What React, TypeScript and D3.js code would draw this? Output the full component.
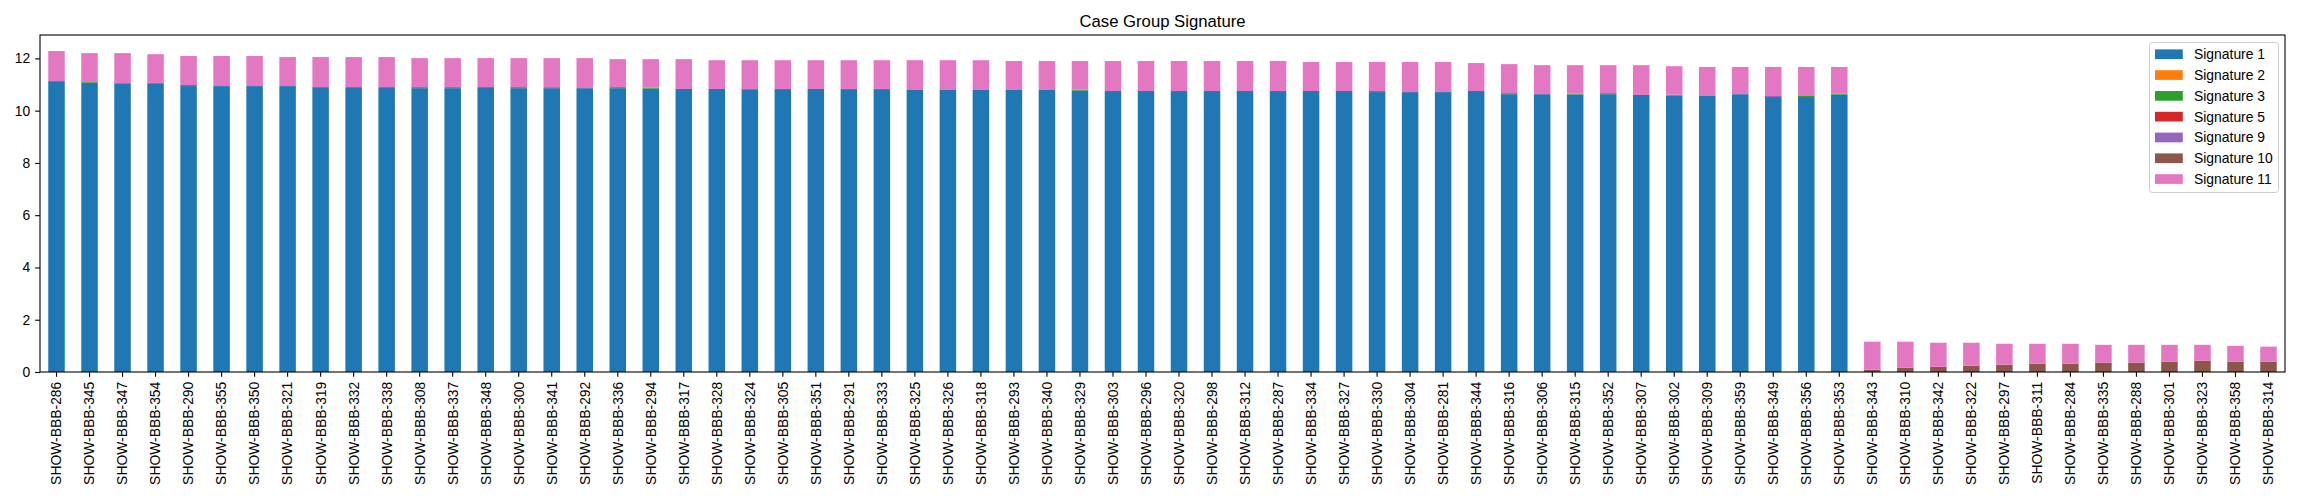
import React, { useEffect, useRef } from 'react';
import * as d3 from 'd3';

const samples = [
  'SHOW-BBB-286', 'SHOW-BBB-345', 'SHOW-BBB-347', 'SHOW-BBB-354', 'SHOW-BBB-290', 'SHOW-BBB-355', 'SHOW-BBB-350',
  'SHOW-BBB-321', 'SHOW-BBB-319', 'SHOW-BBB-332', 'SHOW-BBB-338', 'SHOW-BBB-308', 'SHOW-BBB-337', 'SHOW-BBB-348',
  'SHOW-BBB-300', 'SHOW-BBB-341', 'SHOW-BBB-292', 'SHOW-BBB-336', 'SHOW-BBB-294', 'SHOW-BBB-317', 'SHOW-BBB-328',
  'SHOW-BBB-324', 'SHOW-BBB-305', 'SHOW-BBB-351', 'SHOW-BBB-291', 'SHOW-BBB-333', 'SHOW-BBB-325', 'SHOW-BBB-326',
  'SHOW-BBB-318', 'SHOW-BBB-293', 'SHOW-BBB-340', 'SHOW-BBB-329', 'SHOW-BBB-303', 'SHOW-BBB-296', 'SHOW-BBB-320',
  'SHOW-BBB-298', 'SHOW-BBB-312', 'SHOW-BBB-287', 'SHOW-BBB-334', 'SHOW-BBB-327', 'SHOW-BBB-330', 'SHOW-BBB-304',
  'SHOW-BBB-281', 'SHOW-BBB-344', 'SHOW-BBB-316', 'SHOW-BBB-306', 'SHOW-BBB-315', 'SHOW-BBB-352', 'SHOW-BBB-307',
  'SHOW-BBB-302', 'SHOW-BBB-309', 'SHOW-BBB-359', 'SHOW-BBB-349', 'SHOW-BBB-356', 'SHOW-BBB-353', 'SHOW-BBB-343',
  'SHOW-BBB-310', 'SHOW-BBB-342', 'SHOW-BBB-322', 'SHOW-BBB-297', 'SHOW-BBB-311', 'SHOW-BBB-284', 'SHOW-BBB-335',
  'SHOW-BBB-288', 'SHOW-BBB-301', 'SHOW-BBB-323', 'SHOW-BBB-358', 'SHOW-BBB-314',
];

const sig1 = [
  11.13, 11.06, 11.05, 11.02, 10.94, 10.94, 10.94, 10.94, 10.90, 10.90, 10.90, 10.86, 10.86, 10.90, 10.86, 10.86, 10.86,
  10.86, 10.84, 10.83, 10.83, 10.79, 10.79, 10.83, 10.79, 10.79, 10.79, 10.79, 10.79, 10.79, 10.79, 10.76, 10.75, 10.75,
  10.75, 10.75, 10.75, 10.75, 10.75, 10.75, 10.71, 10.71, 10.71, 10.75, 10.63, 10.63, 10.62, 10.63, 10.60, 10.57, 10.56,
  10.63, 10.52, 10.52, 10.61, 0, 0, 0, 0, 0, 0, 0, 0, 0, 0, 0, 0, 0,
];
const sig2 = Array(68).fill(0);
const sig3 = [
  0, 0.03, 0, 0, 0.04, 0, 0, 0, 0, 0, 0, 0.04, 0.04, 0, 0.04, 0, 0,
  0.04, 0.04, 0, 0, 0, 0.04, 0, 0.04, 0.04, 0, 0, 0, 0, 0, 0.04, 0, 0,
  0, 0, 0, 0, 0, 0, 0.04, 0, 0, 0, 0.04, 0, 0.03, 0.04, 0, 0.04, 0,
  0, 0, 0.04, 0.04, 0, 0, 0, 0, 0, 0, 0, 0, 0, 0, 0, 0, 0,
];
const sig5 = Array(68).fill(0);
const sig9 = [
  0, 0, 0, 0.04, 0, 0, 0, 0, 0, 0, 0, 0, 0, 0, 0, 0.04, 0,
  0, 0, 0, 0, 0.04, 0, 0, 0, 0, 0, 0, 0, 0, 0, 0, 0, 0,
  0, 0, 0, 0, 0, 0, 0, 0, 0, 0, 0, 0, 0, 0, 0, 0, 0,
  0, 0.04, 0, 0, 0, 0, 0, 0, 0, 0, 0, 0, 0, 0, 0, 0, 0,
];
const sig10 = [
  0, 0, 0, 0, 0, 0, 0, 0, 0, 0, 0, 0, 0, 0, 0, 0, 0,
  0, 0, 0, 0, 0, 0, 0, 0, 0, 0, 0, 0, 0, 0, 0, 0, 0,
  0, 0, 0, 0, 0, 0, 0, 0, 0, 0, 0, 0, 0, 0, 0, 0, 0,
  0, 0, 0, 0, 0.09, 0.16, 0.20, 0.24, 0.28, 0.32, 0.32, 0.36, 0.36, 0.39, 0.43, 0.39, 0.39,
];
const sig11 = [
  1.15, 1.11, 1.15, 1.10, 1.11, 1.15, 1.15, 1.11, 1.15, 1.15, 1.15, 1.11, 1.11, 1.11, 1.11, 1.11, 1.15,
  1.07, 1.09, 1.14, 1.10, 1.10, 1.10, 1.10, 1.10, 1.10, 1.14, 1.14, 1.14, 1.11, 1.11, 1.10, 1.15, 1.15,
  1.15, 1.15, 1.15, 1.15, 1.11, 1.11, 1.11, 1.15, 1.15, 1.07, 1.11, 1.11, 1.09, 1.07, 1.14, 1.09, 1.11,
  1.04, 1.11, 1.11, 1.02, 1.07, 1.00, 0.92, 0.88, 0.80, 0.76, 0.76, 0.68, 0.68, 0.65, 0.61, 0.61, 0.58,
];

const seriesNames = ['Signature 1', 'Signature 2', 'Signature 3', 'Signature 5', 'Signature 9', 'Signature 10', 'Signature 11'];
const seriesValues = [sig1, sig2, sig3, sig5, sig9, sig10, sig11];
const colors = ['#1f77b4', '#ff7f0e', '#2ca02c', '#d62728', '#9467bd', '#8c564b', '#e377c2'];
const yTicks = [0, 2, 4, 6, 8, 10, 12];

const W = 2300;
const H = 500;
const margin = { top: 35, right: 15, bottom: 128, left: 40 };
const FONT = '"Liberation Sans", Arial, sans-serif';

const App: React.FC = () => {
  const svgRef = useRef<SVGSVGElement>(null);

  useEffect(() => {
    const svg = d3.select(svgRef.current);
    svg.selectAll('*').remove();

    const x0 = margin.left;
    const x1 = W - margin.right;
    const y0 = H - margin.bottom;
    const y1 = margin.top;

    const rows = samples.map((s, i) => {
      const r: any = { sample: s };
      seriesNames.forEach((n, k) => { r[n] = seriesValues[k][i]; });
      return r;
    });
    const stacked = d3.stack<any>().keys(seriesNames)(rows);
    const maxTotal = d3.max(rows, r => d3.sum(seriesNames, n => r[n])) as number;

    const x = d3.scaleBand<string>().domain(samples).range([x0, x1]).paddingInner(0.5).paddingOuter(0.25);
    const y = d3.scaleLinear().domain([0, maxTotal * 1.05]).range([y0, y1]);

    // bars
    stacked.forEach((layer, k) => {
      svg.append('g')
        .attr('fill', colors[k])
        .selectAll('rect')
        .data(layer)
        .join('rect')
        .attr('x', d => x(d.data.sample)!)
        .attr('width', x.bandwidth())
        .attr('y', d => y(d[1]))
        .attr('height', d => Math.max(0, y(d[0]) - y(d[1])));
    });

    // y axis
    const yAxis = svg.append('g')
      .attr('transform', `translate(${x0},0)`)
      .call(d3.axisLeft(y).tickValues(yTicks).tickFormat(d3.format('d')).tickSize(4.86).tickPadding(4.86));
    yAxis.select('.domain').remove();
    yAxis.selectAll('line').attr('stroke', '#000').attr('stroke-width', 1.1);
    yAxis.selectAll('text').attr('font-family', FONT).attr('font-size', 13.9).attr('fill', '#000');

    // x axis
    const xAxis = svg.append('g')
      .attr('transform', `translate(0,${y0})`)
      .call(d3.axisBottom(x).tickSize(4.86).tickPadding(4.86));
    xAxis.select('.domain').remove();
    xAxis.selectAll('line').attr('stroke', '#000').attr('stroke-width', 1.1);
    xAxis.selectAll('text')
      .attr('font-family', FONT)
      .attr('font-size', 13.9)
      .attr('fill', '#000')
      .attr('text-anchor', 'end')
      .attr('transform', 'rotate(-90)')
      .attr('x', -9.7)
      .attr('y', 0)
      .attr('dy', '0.35em');

    // frame
    svg.append('rect')
      .attr('x', x0).attr('y', y1)
      .attr('width', x1 - x0).attr('height', y0 - y1)
      .attr('fill', 'none').attr('stroke', '#000').attr('stroke-width', 1.1);

    // title
    svg.append('text')
      .attr('x', (x0 + x1) / 2).attr('y', 27)
      .attr('text-anchor', 'middle')
      .attr('font-family', FONT).attr('font-size', 16.7)
      .text('Case Group Signature');

    // legend
    const lg = svg.append('g');
    lg.append('rect')
      .attr('x', 2149.5).attr('y', 42.5)
      .attr('width', 129).attr('height', 150)
      .attr('rx', 3)
      .attr('fill', '#fff').attr('fill-opacity', 0.8)
      .attr('stroke', '#ccc').attr('stroke-width', 1);
    seriesNames.forEach((n, k) => {
      const cy = 54.3 + k * 20.8;
      lg.append('rect')
        .attr('x', 2155).attr('y', cy - 4.9)
        .attr('width', 27.8).attr('height', 9.7)
        .attr('fill', colors[k]);
      lg.append('text')
        .attr('x', 2194).attr('y', cy)
        .attr('dy', '0.35em')
        .attr('font-family', FONT).attr('font-size', 13.9)
        .text(n);
    });
  }, []);

  return (
    <svg ref={svgRef} width={W} height={H} style={{ position: 'absolute', left: 0, top: 0, background: '#fff' }}></svg>
  );
};

export default App;
